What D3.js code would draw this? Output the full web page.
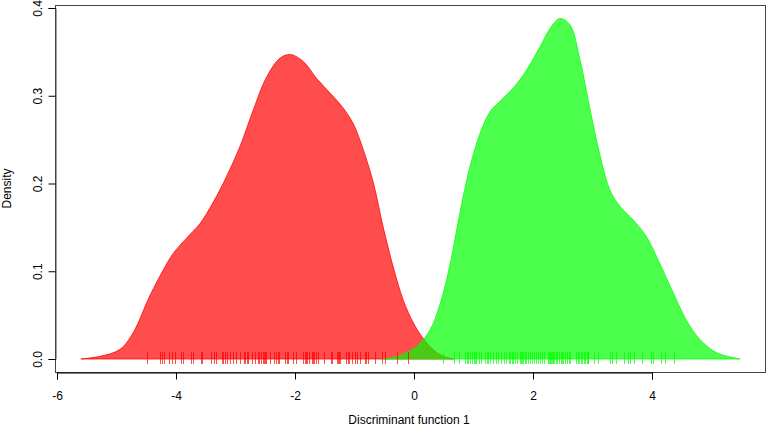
<!DOCTYPE html>
<html><head><meta charset="utf-8">
<script src="https://cdn.jsdelivr.net/npm/d3@7"></script>
<style>body{margin:0;background:#fff}text{font-family:"Liberation Sans",Arial,sans-serif;font-size:12px;fill:#000}</style>
</head><body>
<svg id="c" width="767" height="427"></svg>
<script>
// Density curve of group 1 (red)
const redDensX = [-5.60,-5.28,-4.94,-4.72,-4.44,-4.21,-4.05,-3.82,-3.60,-3.38,-3.15,-2.92,-2.70,-2.48,-2.25,-2.08,-1.86,-1.64,-1.41,-1.19,-1.02,-0.85,-0.68,-0.52,-0.35,-0.18,-0.01,0.16,0.35,0.50,0.66];
const redDensY = [0,0.003,0.011,0.030,0.072,0.102,0.120,0.138,0.154,0.178,0.208,0.243,0.284,0.321,0.343,0.347,0.339,0.320,0.303,0.286,0.268,0.238,0.200,0.151,0.105,0.067,0.041,0.023,0.009,0.003,0];
// Density curve of group 2 (green)
const greenDensX = [-0.54,-0.40,-0.24,-0.05,0.10,0.27,0.44,0.61,0.77,0.94,1.11,1.28,1.45,1.67,1.89,2.12,2.29,2.45,2.62,2.79,2.96,3.13,3.29,3.46,3.69,3.91,4.13,4.36,4.58,4.81,5.09,5.48];
const greenDensY = [0,0.001,0.004,0.010,0.018,0.033,0.063,0.109,0.166,0.219,0.257,0.282,0.294,0.309,0.329,0.356,0.377,0.388,0.381,0.341,0.284,0.231,0.193,0.174,0.158,0.139,0.109,0.075,0.044,0.022,0.007,0];
// Rug values
const redRug = [-4.48,-4.27,-4.24,-4.20,-4.11,-4.06,-4.02,-3.91,-3.88,-3.75,-3.71,-3.58,-3.56,-3.42,-3.36,-3.32,-3.22,-3.21,-3.17,-3.14,-3.10,-3.04,-2.99,-2.92,-2.85,-2.84,-2.81,-2.79,-2.72,-2.67,-2.63,-2.60,-2.57,-2.54,-2.52,-2.50,-2.48,-2.42,-2.36,-2.32,-2.29,-2.27,-2.17,-2.13,-2.11,-2.03,-1.99,-1.86,-1.84,-1.82,-1.80,-1.76,-1.71,-1.70,-1.68,-1.65,-1.62,-1.52,-1.39,-1.37,-1.30,-1.27,-1.26,-1.24,-1.15,-1.11,-1.09,-1.05,-1.00,-0.95,-0.91,-0.82,-0.81,-0.78,-0.66,-0.53,-0.49,-0.29,-0.10];
const greenRug = [0.49,0.68,0.75,0.86,0.89,0.91,0.94,0.97,1.00,1.03,1.05,1.09,1.12,1.19,1.22,1.24,1.27,1.33,1.37,1.41,1.47,1.52,1.55,1.60,1.61,1.64,1.67,1.70,1.73,1.78,1.80,1.82,1.84,1.87,1.89,1.92,1.95,1.98,2.02,2.05,2.09,2.12,2.15,2.19,2.25,2.27,2.29,2.30,2.32,2.34,2.36,2.38,2.40,2.43,2.47,2.49,2.51,2.53,2.57,2.61,2.62,2.73,2.76,2.78,2.81,2.83,2.85,2.87,2.90,2.92,2.93,3.03,3.10,3.29,3.32,3.39,3.53,3.60,3.63,3.70,3.83,3.99,4.02,4.15,4.22,4.37];
const xTicks = [-6,-4,-2,0,2,4];
const yTicks = [0,0.1,0.2,0.3,0.4];
const yTickLabels = ["0.0","0.1","0.2","0.3","0.4"];
const xTitle = "Discriminant function 1";
const yTitle = "Density";

const svg = d3.select("#c");
const L = 55, R = 765, T = 5, B = 372;
const x = d3.scaleLinear().domain([-6, 4]).range([57, 652]);
const y = d3.scaleLinear().domain([0, 0.4]).range([359, 8]);

function drawDens(xs, ys, fill, stroke) {
  const pts = xs.map((v, i) => [v, ys[i]]);
  const area = d3.area().x(d => x(d[0])).y0(y(0)).y1(d => Math.min(y(0), y(d[1]))).curve(d3.curveCatmullRom.alpha(0.5));
  svg.append("path").attr("d", area(pts) + "Z")
    .attr("fill", fill).attr("stroke", stroke).attr("stroke-width", 1);
}
drawDens(redDensX, redDensY, "rgba(255,0,0,0.7)", "rgba(255,0,0,0.75)");
drawDens(greenDensX, greenDensY, "rgba(0,255,0,0.7)", "rgba(0,255,0,0.75)");

function drawRug(vals, col) {
  svg.append("g").selectAll("line").data(vals).join("line")
    .attr("x1", d => Math.round(x(d)) + 0.5).attr("x2", d => Math.round(x(d)) + 0.5)
    .attr("y1", 352).attr("y2", 364)
    .attr("stroke", col).attr("stroke-width", 1);
}
drawRug(redRug, "rgba(255,0,0,0.7)");
drawRug(greenRug, "rgba(0,255,0,0.7)");

// box
svg.append("rect").attr("x", L + 0.5).attr("y", T + 0.5).attr("width", R - L).attr("height", B - T)
  .attr("fill", "none").attr("stroke", "#444").attr("stroke-width", 1);

// x axis
const gx = svg.append("g").attr("transform", `translate(0,${B + 0.5})`)
  .call(d3.axisBottom(x).tickValues(xTicks).tickSize(7).tickPadding(12).tickFormat(d => d));
gx.select(".domain").attr("stroke", "#000");
gx.selectAll("text").attr("font-size", 12).attr("font-family", "Liberation Sans, Arial, sans-serif");

// y axis
const gy = svg.append("g").attr("transform", `translate(${L + 0.5},0)`)
  .call(d3.axisLeft(y).tickValues(yTicks).tickSize(7).tickFormat((d, i) => yTickLabels[i]));
gy.select(".domain").attr("stroke", "#444");
gy.selectAll("text").remove();
gy.selectAll(".tick").append("text")
  .attr("transform", "translate(-14,0) rotate(-90)")
  .attr("text-anchor", "middle").attr("fill", "#000")
  .attr("font-size", 12).attr("font-family", "Liberation Sans, Arial, sans-serif")
  .text((d, i) => yTickLabels[i]);

svg.append("text").attr("x", (L + R) / 2 - 1).attr("y", 424).attr("text-anchor", "middle").text(xTitle);
svg.append("text").attr("transform", `translate(11,${(T + B) / 2}) rotate(-90)`).attr("text-anchor", "middle").text(yTitle);
</script>
</body></html>
